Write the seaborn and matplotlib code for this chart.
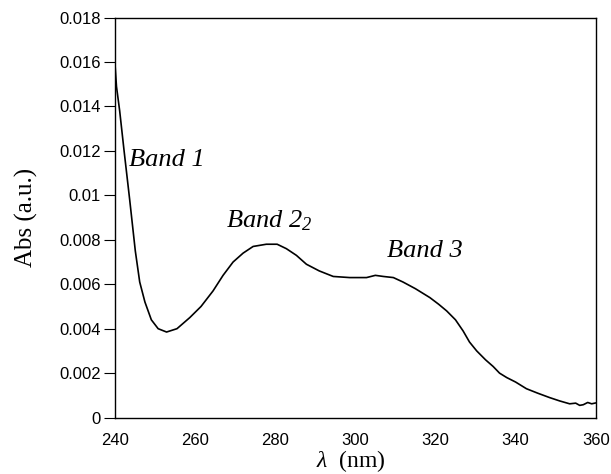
import numpy as np
import pandas as pd
import seaborn as sns
import matplotlib.pyplot as plt
from matplotlib.ticker import FuncFormatter

# spectrum (wavelength in nm, absorbance in a.u.)
wavelength = [240.0, 240.4, 241.2, 242.3, 243.7, 245.1, 246.2, 247.5, 249.1, 250.8,
              252.9, 255.5, 258.7, 261.5, 264.5, 267.0, 269.5, 272.0, 274.5,
              277.8, 280.5, 282.8, 285.3, 287.8, 291.0, 294.5, 298.6, 302.8, 305.0,
              307.0, 309.5, 311.9, 315.0, 318.6, 320.8, 322.8, 325.0, 326.9, 328.5,
              330.3, 332.5, 334.4, 336.0, 337.8, 340.0, 342.7, 345.5, 348.5, 351.0,
              353.5, 355.0, 356.0, 356.9, 358.0, 359.0, 360.0]
absorbance = [0.0160, 0.0149, 0.0138, 0.0120, 0.0098, 0.0075, 0.0061, 0.0052, 0.0044, 0.0040,
              0.00385, 0.0040, 0.0045, 0.0050, 0.0057, 0.0064, 0.0070, 0.0074, 0.0077,
              0.0078, 0.0078, 0.0076, 0.0073, 0.0069, 0.0066, 0.00635, 0.0063, 0.0063, 0.0064,
              0.00635, 0.0063, 0.0061, 0.0058, 0.0054, 0.0051, 0.0048, 0.0044, 0.0039, 0.0034,
              0.0030, 0.0026, 0.0023, 0.0020, 0.0018, 0.0016, 0.0013, 0.0011, 0.0009, 0.00075,
              0.00062, 0.00065, 0.00055, 0.00058, 0.00068, 0.00062, 0.00066]

band_labels = ['Band 1', r'Band 2$_{2}$', 'Band 3']
band_x = [243.6, 267.7, 307.9]
band_y = [0.0113, 0.00856, 0.00721]

x_ticks = [240, 260, 280, 300, 320, 340, 360]
y_ticks = [0, 0.002, 0.004, 0.006, 0.008, 0.01, 0.012, 0.014, 0.016, 0.018]

sns.set_theme(style='ticks')
plt.rcParams['font.family'] = ['Liberation Sans', 'DejaVu Sans']
plt.rcParams['text.color'] = 'black'
plt.rcParams['axes.labelcolor'] = 'black'
plt.rcParams['mathtext.fontset'] = 'custom'
plt.rcParams['mathtext.rm'] = 'Liberation Serif:italic'
plt.rcParams['mathtext.it'] = 'Liberation Serif:italic'

df = pd.DataFrame({'wavelength': wavelength, 'abs': absorbance})

fig = plt.figure(figsize=(6.11, 4.74), dpi=100)
ax = fig.add_axes([0.188, 0.119, 0.787, 0.844])

sns.lineplot(data=df, x='wavelength', y='abs', color='black', linewidth=1.2, ax=ax)

ax.set_xlim(240, 360)
ax.set_ylim(0, 0.018)
ax.set_xticks(x_ticks)
ax.set_yticks(y_ticks)
ax.yaxis.set_major_formatter(FuncFormatter(lambda v, p: f'{v:g}'))
ax.tick_params(axis='y', direction='out', length=8, width=0.8, labelsize=12, colors='black', pad=2)
ax.tick_params(axis='x', length=0, labelsize=12, colors='black', pad=11)

for s in ax.spines.values():
    s.set_visible(True)
    s.set_color('black')
    s.set_linewidth(1.0)

ax.set_xlabel(r'$\lambda$  (nm)', family='Liberation Serif', fontsize=17, color='black')
ax.set_ylabel('Abs (a.u.)', family='Liberation Serif', fontsize=18, color='black')
ax.xaxis.set_label_coords(0.49, -0.075)
ax.yaxis.set_label_coords(-0.16, 0.5)

for lab, bx, by in zip(band_labels, band_x, band_y):
    ax.text(bx, by, lab, family='Liberation Serif', style='italic', fontsize=19,
            color='black', ha='left', va='baseline')

fig.savefig('out.png', dpi=100)
